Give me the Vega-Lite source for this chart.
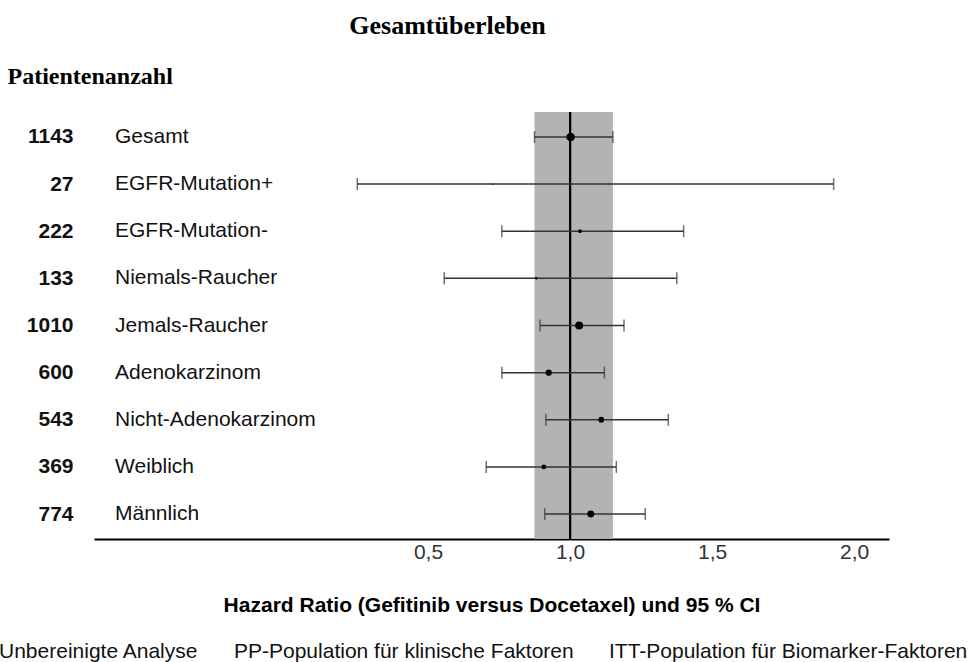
{
  "$schema": "https://vega.github.io/schema/vega-lite/v6.json",
  "autosize": "none",
  "width": 795,
  "height": 427,
  "padding": {"left": 94, "top": 112, "right": 89, "bottom": 123},
  "background": "white",
  "title": {
    "text": "Gesamtüberleben",
    "font": "Liberation Serif",
    "fontSize": 26,
    "fontWeight": "bold",
    "color": "#000",
    "anchor": "middle",
    "offset": 25,
    "dx": -44
  },
  "datasets": {
    "rows": [
      {"gruppe": "Gesamt", "n": 1143, "hr": 1.002, "lo": 0.875, "hi": 1.151},
      {"gruppe": "EGFR-Mutation+", "n": 27, "hr": 0.729, "lo": 0.251, "hi": 1.928},
      {"gruppe": "EGFR-Mutation-", "n": 222, "hr": 1.035, "lo": 0.760, "hi": 1.400},
      {"gruppe": "Niemals-Raucher", "n": 133, "hr": 0.881, "lo": 0.557, "hi": 1.376},
      {"gruppe": "Jemals-Raucher", "n": 1010, "hr": 1.032, "lo": 0.894, "hi": 1.190},
      {"gruppe": "Adenokarzinom", "n": 600, "hr": 0.925, "lo": 0.760, "hi": 1.121},
      {"gruppe": "Nicht-Adenokarzinom", "n": 543, "hr": 1.110, "lo": 0.915, "hi": 1.346},
      {"gruppe": "Weiblich", "n": 369, "hr": 0.908, "lo": 0.705, "hi": 1.163},
      {"gruppe": "Männlich", "n": 774, "hr": 1.073, "lo": 0.911, "hi": 1.265}
    ],
    "footer": [
      {"analyse": "Unbereinigte Analyse"},
      {"analyse": "PP-Population für klinische Faktoren"},
      {"analyse": "ITT-Population für Biomarker-Faktoren"}
    ]
  },
  "layer": [
    {
      "data": {"name": "rows"},
      "transform": [{"filter": "datum.gruppe === 'Gesamt'"}],
      "mark": {"type": "rect", "color": "#b3b3b3"},
      "encoding": {
        "x": {"field": "lo", "type": "quantitative"},
        "x2": {"field": "hi"}
      }
    },
    {
      "data": {"name": "rows"},
      "mark": {"type": "rule", "color": "#000", "strokeWidth": 2},
      "encoding": {"x": {"datum": 1}}
    },
    {
      "data": {"name": "rows"},
      "mark": {"type": "rule", "color": "#333", "strokeWidth": 1.5},
      "encoding": {
        "y": {"field": "n", "type": "nominal", "sort": null},
        "x": {"field": "lo", "type": "quantitative"},
        "x2": {"field": "hi"}
      }
    },
    {
      "data": {"name": "rows"},
      "mark": {"type": "tick", "color": "#333", "thickness": 1.5, "size": 12, "orient": "vertical"},
      "encoding": {
        "y": {"field": "n", "type": "nominal", "sort": null},
        "x": {"field": "lo", "type": "quantitative"}
      }
    },
    {
      "data": {"name": "rows"},
      "mark": {"type": "tick", "color": "#333", "thickness": 1.5, "size": 12, "orient": "vertical"},
      "encoding": {
        "y": {"field": "n", "type": "nominal", "sort": null},
        "x": {"field": "hi", "type": "quantitative"}
      }
    },
    {
      "data": {"name": "rows"},
      "mark": {"type": "circle", "color": "#000", "opacity": 1},
      "encoding": {
        "y": {"field": "n", "type": "nominal", "sort": null},
        "x": {"field": "hr", "type": "quantitative"},
        "size": {"field": "n", "type": "quantitative", "scale": {"domain": [0, 1143], "range": [0, 72]}, "legend": null}
      }
    },
    {
      "data": {"name": "rows"},
      "mark": {"type": "text", "align": "left", "baseline": "middle", "font": "Liberation Sans", "fontSize": 21, "color": "#111"},
      "encoding": {
        "y": {"field": "n", "type": "nominal", "sort": null},
        "x": {"datum": -0.602},
        "text": {"field": "gruppe"}
      }
    },
    {
      "data": {"name": "footer"},
      "mark": {"type": "point", "opacity": 0},
      "encoding": {
        "color": {
          "field": "analyse", "type": "nominal", "sort": null,
          "scale": {"range": ["#000", "#000", "#000"]},
          "legend": {
            "title": null,
            "orient": "none",
            "legendX": -116,
            "legendY": 529,
            "direction": "horizontal",
            "symbolSize": 0,
            "symbolOpacity": 0,
            "symbolStrokeWidth": 0,
            "labelOffset": 0,
            "columnPadding": 14,
            "labelFont": "Liberation Sans",
            "labelFontSize": 21,
            "labelColor": "#111",
            "labelLimit": 0
          }
        }
      }
    }
  ],
  "encoding": {
    "x": {
      "type": "quantitative",
      "scale": {"domain": [-0.676, 2.123], "nice": false, "zero": false},
      "axis": {
        "values": [0.5, 1, 1.5, 2],
        "labelExpr": "replace(format(datum.value, '.1f'), '.', ',')",
        "title": "Hazard Ratio (Gefitinib versus Docetaxel) und 95 % CI",
        "grid": false,
        "ticks": false,
        "domainColor": "#000",
        "domainWidth": 2,
        "labelFont": "Liberation Sans",
        "labelFontSize": 21,
        "labelColor": "#333",
        "labelPadding": 2,
        "titleFont": "Liberation Sans",
        "titleFontSize": 21,
        "titleFontWeight": "bold",
        "titleColor": "#000",
        "titlePadding": 32
      }
    },
    "y": {
      "type": "nominal",
      "scale": {"type": "point", "padding": 0.53},
      "axis": {
        "title": "Patientenanzahl",
        "titleAngle": 0,
        "titleAlign": "left",
        "titleBaseline": "alphabetic",
        "titleX": -87,
        "titleY": -29,
        "titleFont": "Liberation Serif",
        "titleFontSize": 24,
        "titleFontWeight": "bold",
        "titleColor": "#000",
        "domain": false,
        "ticks": false,
        "grid": false,
        "labelFont": "Liberation Sans",
        "labelFontSize": 21,
        "labelFontWeight": "bold",
        "labelColor": "#111",
        "labelPadding": 21
      }
    }
  },
  "config": {"view": {"stroke": null}}
}
